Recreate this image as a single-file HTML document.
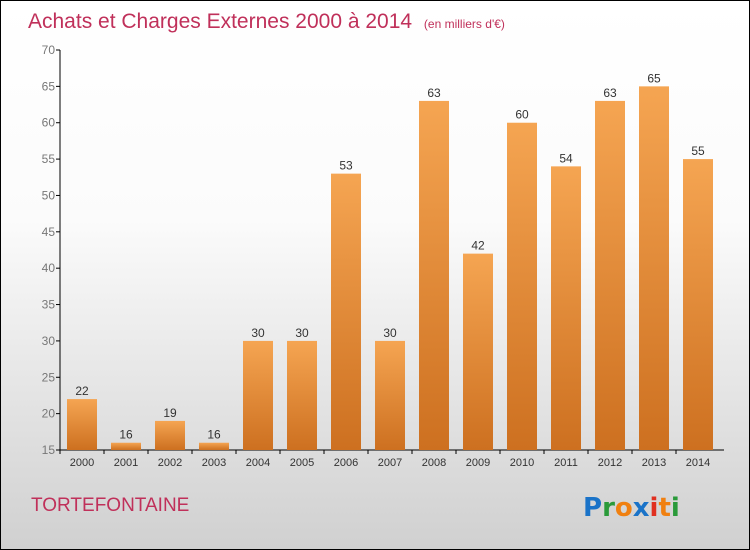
<!DOCTYPE html>
<html><head><meta charset="utf-8"><style>
body{margin:0}
#w{width:748px;height:548px;border:1px solid #000;background:linear-gradient(#fff,#fbfbfb 40%,#d0d0d0);position:relative;font-family:"Liberation Sans",sans-serif;overflow:hidden}
</style></head><body>
<div id="w">
<svg width="748" height="548" id="s">
<defs><linearGradient id="g" x1="0" y1="0" x2="0" y2="1"><stop offset="0" stop-color="#f5a552"/><stop offset="1" stop-color="#cd7020"/></linearGradient></defs>
<text x="27" y="27" font-size="21" fill="#c0305a">Achats et Charges Externes 2000 à 2014 <tspan font-size="12" dx="6">(en milliers d'€)</tspan></text>
<text x="30" y="510" font-size="19" fill="#c0305a">TORTEFONTAINE</text>
<g font-size="26" font-weight="bold" font-family="DejaVu Sans,sans-serif">
<text x="582" y="515"><tspan fill="#1a73c8">P</tspan><tspan fill="#2a9a3a">r</tspan><tspan fill="#f08010">o</tspan><tspan fill="#1a73c8">x</tspan><tspan fill="#e03020">i</tspan><tspan fill="#f08010">t</tspan><tspan fill="#2a9a3a">i</tspan></text></g>
<g id="ax"></g><g id="bars"></g>
</svg></div>
<script>
const years=["2000","2001","2002","2003","2004","2005","2006","2007","2008","2009","2010","2011","2012","2013","2014"];
const values=[22,16,19,16,30,30,53,30,63,42,60,54,63,65,55];
const ticks=[15,20,25,30,35,40,45,50,55,60,65,70];
const ns="http://www.w3.org/2000/svg";
const y0=449,y1=49,vmin=15,vmax=70,x0=59,step=44,bw=30;
const y=v=>y0-(v-vmin)*(y0-y1)/(vmax-vmin);
const xc=i=>x0+22+i*step;
function mk(t,a,p){const e=document.createElementNS(ns,t);for(const k in a)e.setAttribute(k,a[k]);p.appendChild(e);return e;}
const ax=document.getElementById('ax'),bars=document.getElementById('bars');
let l=mk('line',{x1:x0,y1:y1,x2:x0,y2:y0,stroke:'#000'},ax);


l=mk('line',{x1:x0,y1:y0,x2:x0+15*step+4,y2:y0,stroke:'#000'},ax);


ticks.forEach(v=>{
 mk('line',{x1:x0-4,y1:y(v),x2:x0,y2:y(v),stroke:'#000'},ax);
 const t=mk('text',{x:x0-5,y:y(v)+4,'text-anchor':'end','font-size':12,fill:'#777'},ax);t.textContent=v;
 
 
});
years.forEach((yr,i)=>{
 mk('line',{x1:x0+i*step,y1:y0,x2:x0+i*step,y2:y0+4,stroke:'#000'},ax);
 const t=mk('text',{x:xc(i),y:y0+16,'text-anchor':'middle','font-size':11,fill:'#333'},ax);t.textContent=yr;
 
 
 const r=mk('rect',{x:xc(i)-bw/2,y:y(values[i]),width:bw,height:y0-y(values[i]),fill:'url(#g)'},bars);
 
 
 const lb=mk('text',{x:xc(i),y:y(values[i])-4,'text-anchor':'middle','font-size':12,fill:'#333'},bars);lb.textContent=values[i];
 
 
});
</script>
</body></html>
